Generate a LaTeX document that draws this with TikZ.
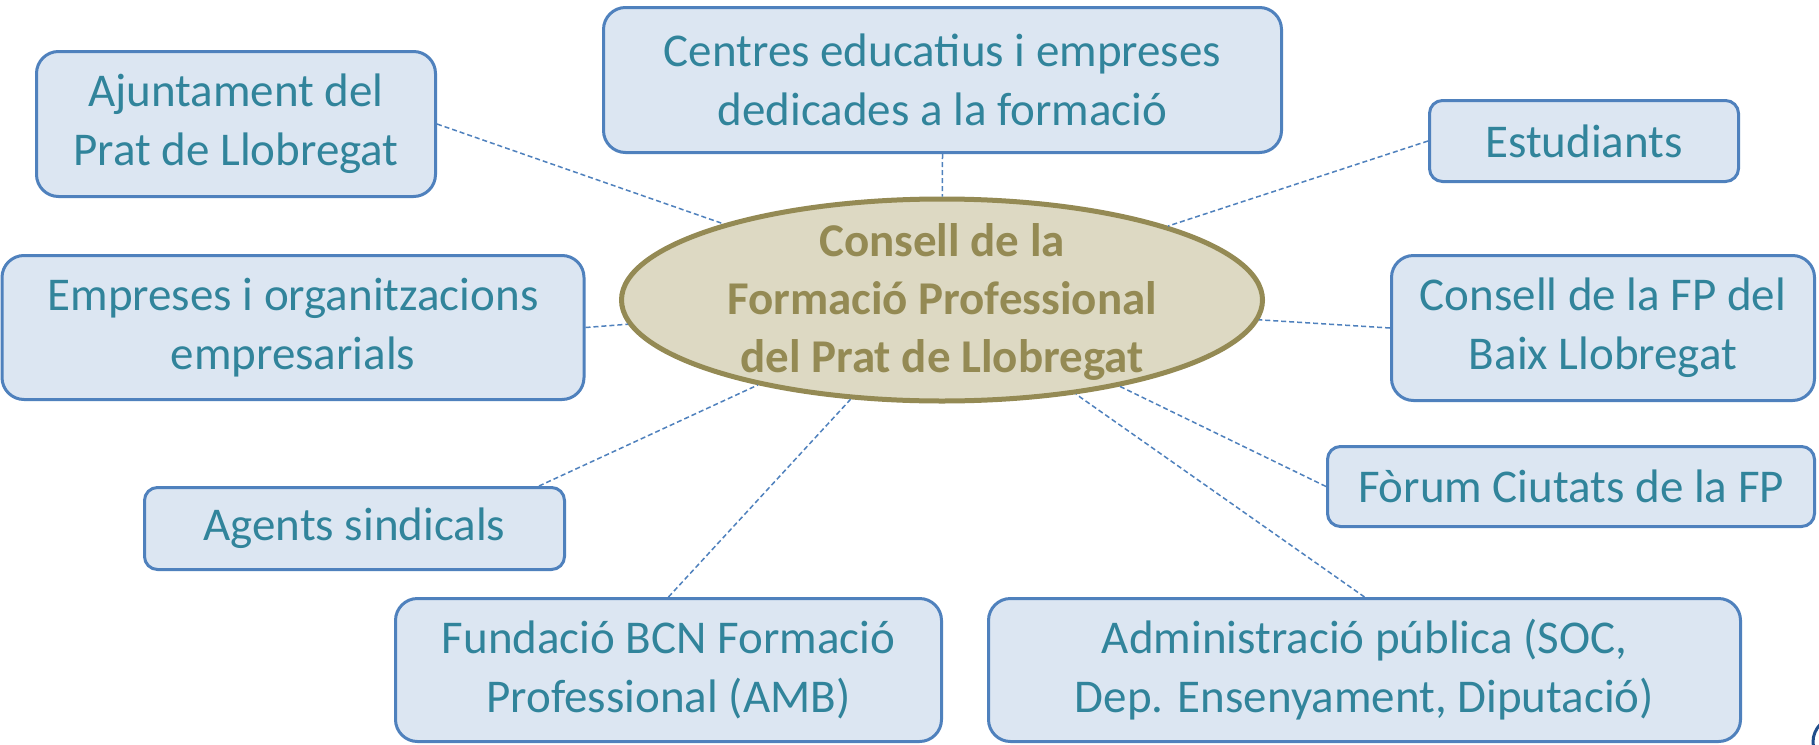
\documentclass[tikz,border=0pt]{standalone}
\usepackage{fontspec}
\setmainfont{Carlito}
\usepackage{tikz}
\usetikzlibrary{shapes.geometric}

\definecolor{boxfill}{HTML}{DCE6F2}
\definecolor{boxline}{HTML}{4F81BD}
\definecolor{boxtext}{HTML}{31849B}
\definecolor{ovalfill}{HTML}{DDD9C3}
\definecolor{ovalline}{HTML}{948A54}
\definecolor{markblue}{HTML}{1F4E8C}

\begin{document}
\begin{tikzpicture}[x=1pt,y=-1pt,
member/.style={draw=boxline,line width=3pt,fill=boxfill,text=boxtext,rounded corners=22pt,align=center,inner sep=0pt,font=\fontsize{47}{59}\selectfont},
smallmember/.style={member,rounded corners=13pt},
council/.style={ellipse,draw=ovalline,line width=5pt,fill=ovalfill,inner sep=0pt},
counciltext/.style={text=ovalline,align=center,inner sep=0pt,font=\fontsize{47}{58}\selectfont\bfseries},
link/.style={draw=boxline,line width=1.5pt,dash pattern=on 5pt off 3pt}]
\useasboundingbox (0,0) rectangle (1819,744);
\fill[white] (0,0) rectangle (1819,744);
\node[member,minimum width=399pt,minimum height=145pt] (aj) at (236,124) {Ajuntament del\\Prat de Llobregat};
\node[member,minimum width=678pt,minimum height=145pt] (ce) at (942.5,80) {Centres educatius i empreses\\dedicades a la formació};
\node[smallmember,minimum width=309pt,minimum height=81pt] (es) at (1584,141) {Estudiants};
\node[member,minimum width=582pt,minimum height=144pt] (em) at (293,327.5) {Empreses i organitzacions\\empresarials};
\node[member,minimum width=423pt,minimum height=145pt] (fp) at (1603,328) {Consell de la FP del\\Baix Llobregat};
\node[smallmember,minimum width=487pt,minimum height=80pt] (fo) at (1571,486.5) {Fòrum Ciutats de la FP};
\node[smallmember,minimum width=420pt,minimum height=82pt] (ag) at (354.5,528.5) {Agents sindicals};
\node[member,minimum width=546pt,minimum height=143pt] (fu) at (668.5,670) {Fundació BCN Formació\\Professional (AMB)};
\node[member,minimum width=752pt,minimum height=143pt] (ad) at (1364.5,670) {Administració pública (SOC,\\Dep. Ensenyament, Diputació)};
\node[council,minimum width=641pt,minimum height=202pt] (cfp) at (942,300) {};
\node[counciltext] (cfpt) at (942,302) {Consell de la\\Formació Professional\\del Prat de Llobregat};
% dashed links to the council
\draw[link] (aj.east) -- (cfp);
\draw[link] (ce.south) -- (cfp);
\draw[link] (es.west) -- (cfp);
\draw[link] (em.east) -- (cfp);
\draw[link] (fp.west) -- (cfp);
\draw[link] (fo.west) -- (cfp);
\draw[link] ([xshift=-27pt]ag.north east) -- (cfp);
\draw[link] (fu.north) -- (cfp);
\draw[link] (ad.north) -- (cfp);
\begin{scope}
\clip (0,0) rectangle (1819,744);
\draw[markblue,line width=3pt] (1838,742) circle (25pt);
\end{scope}
\end{tikzpicture}
\end{document}
